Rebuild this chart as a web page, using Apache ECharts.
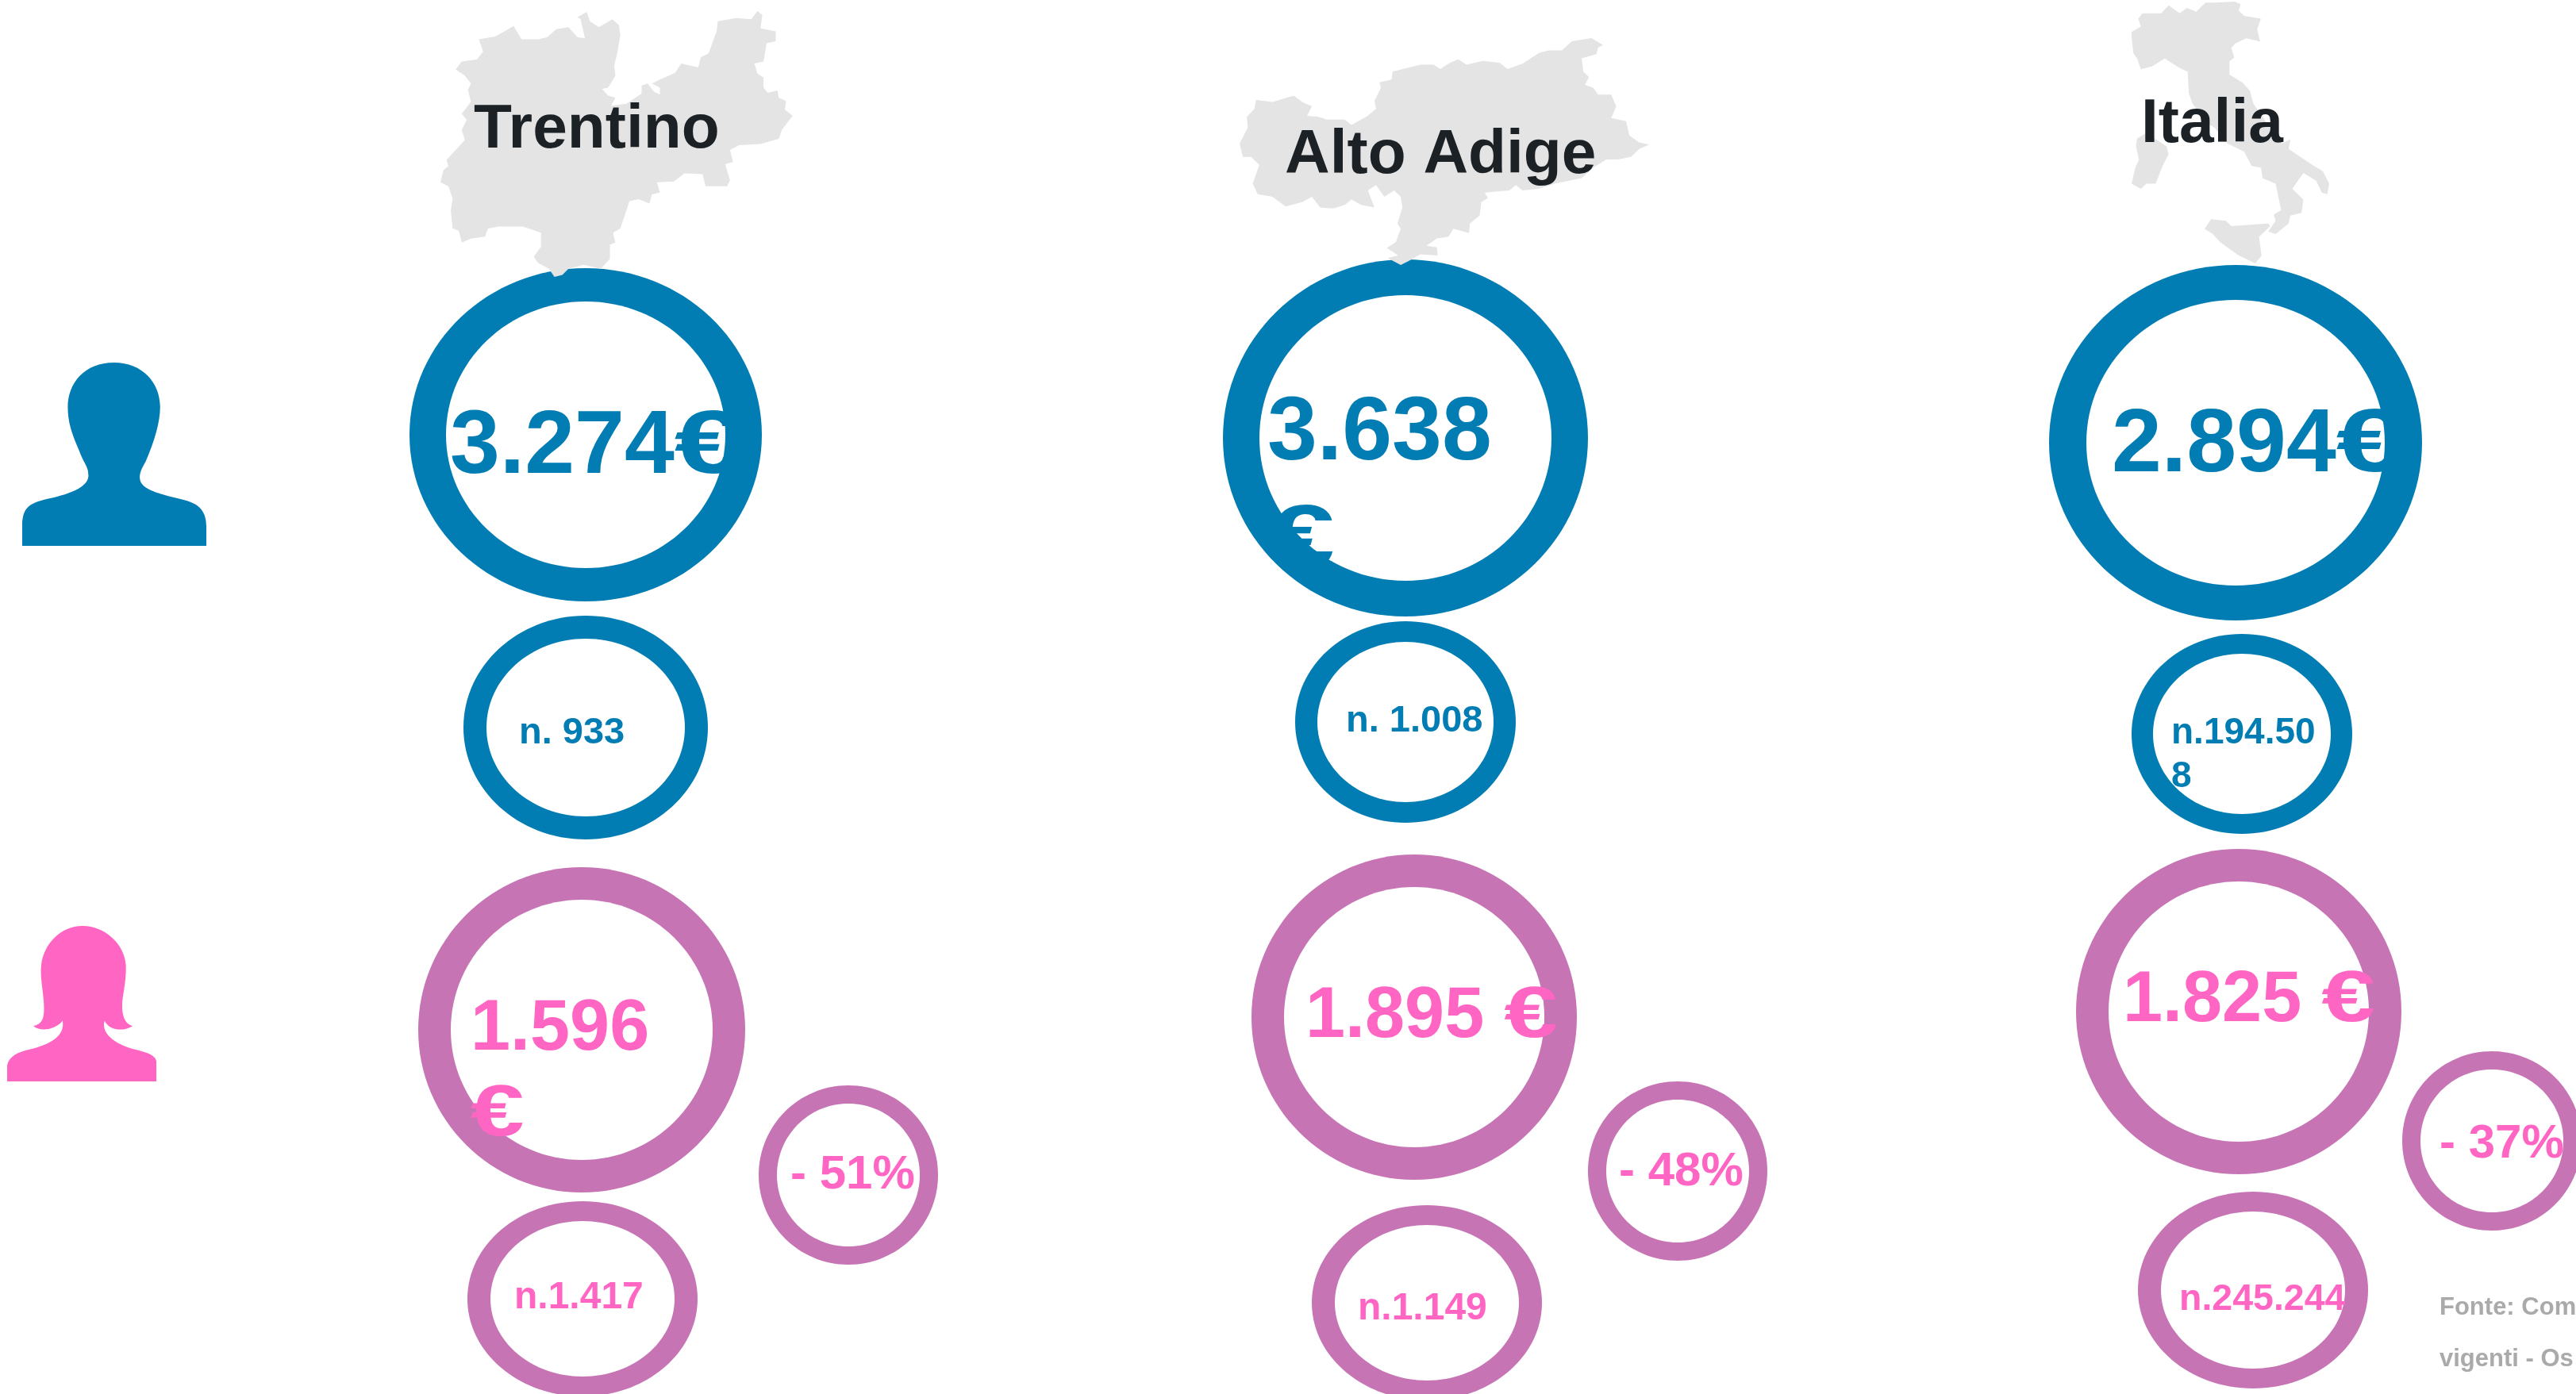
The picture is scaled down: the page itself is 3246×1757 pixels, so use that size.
<!DOCTYPE html>
<html>
<head>
<meta charset="utf-8">
<title>Trentino Alto Adige Italia</title>
<script src="https://cdn.jsdelivr.net/npm/echarts@6/dist/echarts.min.js"></script>
<style>
  html, body { margin: 0; padding: 0; background: #ffffff; }
  #chart { width: 3246px; height: 1757px; }
</style>
</head>
<body>
<div id="chart"></div>
<script>
// values, one per region
const regions = ['Trentino', 'Alto Adige', 'Italia'];
const maleAmount = ['3.274€', '3.638\n€', '2.894€'];
const maleCount = ['n. 933', 'n. 1.008', 'n.194.50\n8'];
const femaleAmount = ['1.596\n€', '1.895 €', '1.825 €'];
const femaleCount = ['n.1.417', 'n.1.149', 'n.245.244'];
const gapPercent = ['- 51%', '- 48%', '- 37%'];
const sourceNote = ['Fonte: Com', 'vigenti - Os'];

const BLUE = '#027db4';
const RING_PINK = '#c774b5';
const TEXT_PINK = '#ff66c4';
const FONT = '"Liberation Sans", Arial, sans-serif';

// layout: cx, cy, outer rx, outer ry, inner rx, inner ry
const ringLayout = {
  maleAmount: [[738, 548, 222, 210, 176, 168], [1771, 552, 230, 225, 184, 180], [2817, 558, 235, 224, 188, 180]],
  maleCount: [[738, 917, 154, 141, 125, 112], [1771, 910, 139, 127, 111, 101], [2825, 925, 139, 126, 112, 101]],
  femaleAmount: [[733, 1298, 206, 205, 165, 164], [1782, 1282, 205, 205, 164, 164], [2821, 1275, 205, 205, 164, 164]],
  gapPercent: [[1069, 1481, 113, 113, 90, 90], [2114, 1476, 113, 113, 90, 90], [3140, 1438, 113, 113, 90, 90]],
  femaleCount: [[734, 1637, 145, 123, 116, 98], [1798, 1642, 145, 123, 116, 98], [2839, 1626, 145, 124, 116, 99]]
};
// layout: left, baseline, font size
const textLayout = {
  regions: [[597, 187, 78.5], [1619, 219, 78.5], [2698, 180, 78.5]],
  maleAmount: [[567, 598, 113], [1597, 581, 113], [2661, 596, 113]],
  maleCount: [[654, 938, 47], [1696, 923, 47], [2736, 938, 46]],
  femaleAmount: [[593, 1324, 90], [1645, 1308, 90], [2675, 1288, 90]],
  gapPercent: [[996, 1499, 60], [2040, 1495, 60], [3074, 1460, 60]],
  femaleCount: [[648, 1650, 48], [1711, 1664, 48], [2746, 1652, 46.5]],
  sourceNote: [[3074, 1657, 31], [3074, 1722, 31]]
};

const poly = (pts) => 'M' + pts.map((p) => p[0] + ' ' + p[1]).join(' L') + ' Z';

const trentinoShape = poly([[965,27],[970,50],[985,65],[1007,45],[1018,60],[1020,85],[1015,130],[1010,160],[1012,185],[1000,215],[990,218],[1000,235],[1012,240],[1005,260],[1030,255],[1055,230],[1055,210],[1065,205],[1075,225],[1085,232],[1085,215],[1072,205],[1085,195],[1110,178],[1120,155],[1148,165],[1152,140],[1165,130],[1172,100],[1178,75],[1180,50],[1210,42],[1235,45],[1245,25],[1253,35],[1250,68],[1275,75],[1275,100],[1260,105],[1255,150],[1240,155],[1245,180],[1255,190],[1255,215],[1262,228],[1278,222],[1280,240],[1292,248],[1290,270],[1303,285],[1295,300],[1285,320],[1280,342],[1250,355],[1215,358],[1200,370],[1205,400],[1192,405],[1200,445],[1195,460],[1160,460],[1155,430],[1125,428],[1108,448],[1080,450],[1085,475],[1072,480],[1068,503],[1050,492],[1035,497],[1030,520],[1020,565],[1008,575],[1012,600],[1003,605],[1003,640],[988,665],[960,655],[935,665],[925,680],[912,685],[903,665],[885,650],[878,635],[890,610],[890,575],[860,560],[820,560],[803,565],[798,585],[775,590],[760,600],[755,570],[745,565],[742,520],[745,490],[738,460],[725,450],[730,420],[738,410],[735,395],[750,370],[765,345],[760,320],[768,295],[760,280],[775,250],[770,220],[775,205],[765,185],[750,170],[760,150],[785,145],[795,125],[788,95],[815,88],[830,75],[845,62],[858,95],[885,95],[900,90],[915,70],[935,65],[950,90],[962,92],[955,45],[950,40]]);

const altoAdigeShape = poly([[150,270],[175,240],[172,220],[195,205],[200,188],[250,192],[315,180],[340,192],[370,200],[355,218],[390,220],[415,225],[470,225],[490,235],[535,220],[565,205],[560,190],[580,165],[575,155],[612,150],[615,135],[700,122],[740,122],[760,130],[790,118],[815,112],[840,122],[890,115],[940,118],[965,130],[1010,120],[1060,100],[1090,95],[1130,95],[1160,78],[1220,72],[1255,85],[1240,90],[1235,102],[1190,110],[1195,135],[1212,145],[1200,160],[1225,165],[1240,178],[1280,178],[1295,200],[1280,222],[1325,228],[1335,255],[1365,268],[1395,272],[1365,280],[1340,295],[1300,300],[1265,300],[1225,315],[1190,335],[1110,345],[1060,355],[1010,358],[990,348],[970,358],[895,362],[905,372],[885,380],[880,405],[850,420],[848,438],[800,430],[785,445],[750,448],[718,462],[750,465],[752,480],[700,478],[665,490],[640,498],[600,485],[632,480],[598,466],[625,455],[640,430],[630,420],[645,390],[640,370],[620,358],[590,370],[565,348],[540,358],[560,390],[520,385],[490,375],[470,385],[435,392],[395,390],[370,370],[340,380],[290,388],[250,370],[205,365],[190,345],[210,310],[185,295],[160,295]]);

const italiaShape = poly([[360,60],[385,50],[378,35],[390,25],[440,25],[460,10],[470,15],[490,25],[510,15],[535,22],[560,5],[590,5],[640,3],[655,8],[650,20],[665,30],[710,35],[700,55],[708,78],[670,72],[640,82],[630,90],[638,108],[625,115],[625,140],[660,155],[680,170],[690,195],[710,215],[765,270],[790,262],[785,280],[850,310],[878,322],[895,345],[890,365],[875,362],[860,340],[825,325],[795,355],[825,375],[820,400],[790,405],[785,420],[750,440],[730,435],[750,415],[745,403],[765,395],[750,345],[715,335],[710,315],[685,312],[665,285],[620,270],[585,240],[565,232],[525,195],[515,175],[512,135],[490,128],[450,110],[415,125],[385,130],[375,110],[365,100],[360,70]])
  + ' ' + poly([[375,260],[400,250],[455,275],[460,290],[445,310],[425,345],[400,345],[385,355],[360,345],[370,315],[380,300],[372,275]])
  + ' ' + poly([[558,430],[575,412],[615,415],[630,425],[730,420],[735,425],[705,445],[712,480],[695,495],[650,480],[620,465],[600,455],[580,440]]);

const manShape = 'M37 1348 L37 1300 C37 1260 45 1245 70 1235 C100 1225 145 1210 146 1175 C146 1150 140 1150 130 1110 C118 1070 112 1040 112 1005 C112 945 140 895 188 895 C235 895 264 945 264 1005 C264 1040 255 1090 240 1140 C232 1160 228 1175 232 1190 C240 1215 280 1225 305 1235 C330 1245 340 1265 340 1300 L340 1348 Z';
const womanShape = 'M12 695 L12 650 C15 625 30 612 50 605 C80 592 108 570 103 525 C95 545 70 560 55 540 C75 535 73 500 72 470 C70 430 66 400 68 370 C72 310 100 260 136 260 C172 260 205 310 207 370 C208 410 203 440 201 475 C200 510 205 535 218 540 C205 555 180 555 172 525 C165 565 195 595 225 607 C245 615 257 625 257 640 L257 695 Z';

// silhouettes: shape, left, top, right, bottom, colour
const silhouettes = [
  [trentinoShape, 555, 14, 999, 349, '#e4e4e4'],
  [altoAdigeShape, 1562, 48, 2078, 334, '#e4e4e4'],
  [italiaShape, 2686, 2, 2935, 332, '#e4e4e4'],
  [manShape, 28, 457, 260, 688, BLUE],
  [womanShape, 9, 1167, 197, 1363, TEXT_PINK]
];

const ringRows = [
  ['maleAmount', BLUE], ['maleCount', BLUE],
  ['femaleAmount', RING_PINK], ['gapPercent', RING_PINK], ['femaleCount', RING_PINK]
];
const ringData = [];
ringRows.forEach(([key, color]) => {
  ringLayout[key].forEach((r) => ringData.push({ value: r, color }));
});

const textRows = [
  [regions, 'regions', '#1b2125', 0],
  [maleAmount, 'maleAmount', BLUE, 136],
  [maleCount, 'maleCount', BLUE, 55],
  [femaleAmount, 'femaleAmount', TEXT_PINK, 108],
  [gapPercent, 'gapPercent', TEXT_PINK, 0],
  [femaleCount, 'femaleCount', TEXT_PINK, 0],
  [sourceNote, 'sourceNote', '#aaaaaa', 0]
];
const textData = [];
textRows.forEach(([labels, key, color, lineGap]) => {
  labels.forEach((label, i) => {
    label.split('\n').forEach((line, n) => {
      const pos = textLayout[key][i];
      textData.push({ value: [pos[0], pos[1] + n * lineGap], line, size: pos[2], color });
    });
  });
});

const measure = document.createElement('canvas').getContext('2d');
const textWidth = (text, font) => {
  measure.font = font;
  return measure.measureText(text).width;
};

const chart = echarts.init(document.getElementById('chart'));
chart.setOption({
  animation: false,
  backgroundColor: '#ffffff',
  grid: { left: 0, right: 0, top: 0, bottom: 0 },
  xAxis: { type: 'value', min: 0, max: 3246, show: false },
  yAxis: { type: 'value', min: 0, max: 1757, inverse: true, show: false },
  series: [
    {
      type: 'custom',
      z: 2,
      clip: false,
      silent: true,
      data: ringData,
      renderItem: (params, api) => {
        const item = ringData[params.dataIndex];
        const [cx, cy, rx, ry, irx, iry] = item.value;
        const c = api.coord([cx, cy]);
        return {
          type: 'group',
          children: [
            { type: 'ellipse', shape: { cx: c[0], cy: c[1], rx, ry }, style: { fill: item.color } },
            { type: 'ellipse', shape: { cx: c[0], cy: c[1], rx: irx, ry: iry }, style: { fill: '#ffffff' } }
          ]
        };
      }
    },
    {
      type: 'scatter',
      z: 3,
      silent: true,
      clip: false,
      data: silhouettes.map((s) => ({
        value: [(s[1] + s[3]) / 2, (s[2] + s[4]) / 2],
        symbol: 'path://' + s[0],
        symbolSize: [s[3] - s[1], s[4] - s[2]],
        itemStyle: { color: s[5], opacity: 1 }
      }))
    },
    {
      type: 'custom',
      z: 4,
      clip: false,
      silent: true,
      data: textData,
      renderItem: (params, api) => {
        const item = textData[params.dataIndex];
        const c = api.coord(item.value);
        const font = 'bold ' + item.size + 'px ' + FONT;
        const y = c[1] - item.size * 0.29;
        // the euro sign is drawn apart, the original font has a much wider one
        const euroAt = item.line.indexOf('€');
        const head = euroAt < 0 ? item.line : item.line.slice(0, euroAt);
        const children = [{
          type: 'text',
          style: { x: c[0], y, text: head, fill: item.color, font, align: 'left', verticalAlign: 'middle' }
        }];
        if (euroAt >= 0) {
          children.push({
            type: 'text',
            x: c[0] + textWidth(head, font),
            y,
            scaleX: 1.35,
            style: { x: 0, y: 0, text: '€', fill: item.color, font, align: 'left', verticalAlign: 'middle' }
          });
        }
        return { type: 'group', children };
      }
    }
  ]
});
</script>
</body>
</html>
